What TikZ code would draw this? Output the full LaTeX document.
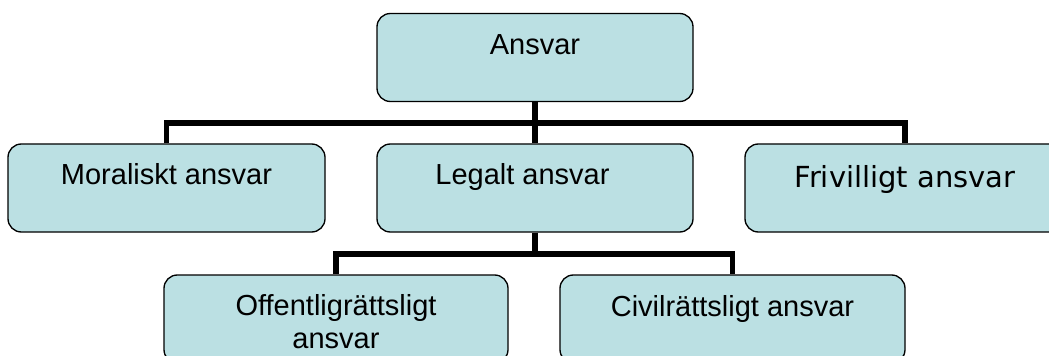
\documentclass[tikz,border=0pt]{standalone}
\usepackage{fontspec}
\setmainfont{Liberation Sans}
\newfontfamily\verdfont{DejaVu Sans}
\usepackage{xcolor}
\definecolor{boxblue}{HTML}{BBE0E3}
\tikzset{
    post/.style={
        draw,
        rounded corners=10pt,
        fill=boxblue,
        line width=1pt,
        inner xsep=4pt,
        inner ysep=0pt,
        minimum height=66pt,
        text height=30.75pt,
        text depth=35.25pt,
        font=\fontsize{21.75pt}{24.5pt}\selectfont
    },
    bus/.style={
        draw,
        line width=4pt
    }
}

\begin{document}
\begin{tikzpicture}[x=0.75pt, y=-0.75pt]
    \fill[white] (0,0) rectangle (1049,356);
    \clip (0,0) rectangle (1049,356);
    % Boxes
    \node[post, minimum width=237pt] (ansvar) at (535,57.5) {Ansvar};
    \node[post, minimum width=237.75pt] (moral) at (166.5,188) {Moraliskt ansvar};
    \node[post, minimum width=237pt] (legalt) at (535,188) {Legalt ansvar\hspace*{18.75pt}};
    \node[post, minimum width=240pt, text height=32.25pt, text depth=33.75pt,
          font=\verdfont\fontsize{21.75pt}{24.5pt}\selectfont] (frivillig) at (905,188) {Frivilligt ansvar};
    \node[post, minimum width=258pt, align=center, text height=54.75pt, text depth=11.25pt]
          (offentlig) at (336,319) {Offentligrättsligt\\ansvar};
    \node[post, minimum width=258.75pt] (civil) at (732.5,319) {Civilrättsligt ansvar};

    % Lines
    \coordinate (topbus) at (535,123);
    \coordinate (lowbus) at (535,254);
    \draw[bus] (ansvar) -- (legalt);
    \draw[bus] (moral.north) |- (topbus) -| (frivillig.north);
    \draw[bus] (legalt.south) -- (lowbus);
    \draw[bus] (offentlig.north) |- (lowbus) -| (civil.north);
\end{tikzpicture}
\end{document}
